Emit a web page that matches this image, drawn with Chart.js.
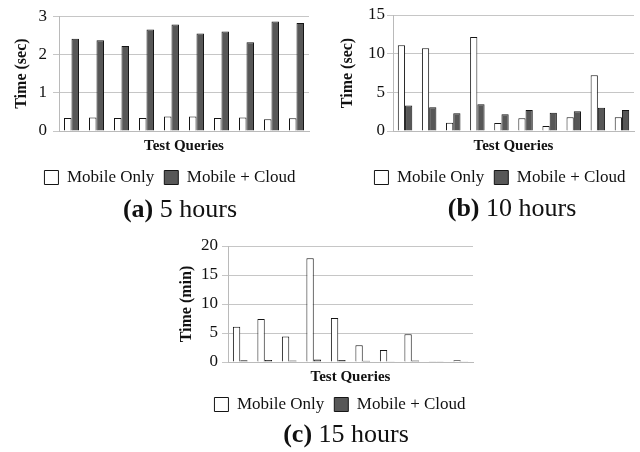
<!DOCTYPE html>
<html>
<head>
<meta charset="utf-8">
<script src="https://cdn.jsdelivr.net/npm/chart.js@4/dist/chart.umd.min.js"></script>
<style>
  html, body { margin:0; padding:0; width:640px; height:452px; overflow:hidden; background:#fff; }
  canvas { position:absolute; }
  .cap { position:absolute; font-family:"Liberation Serif", serif; font-size:26px; color:#111; white-space:nowrap; transform:translate(-50%,-50%); line-height:1; }
  .cap b { font-weight:bold; }
</style>
</head>
<body>
<canvas id="ca" width="340" height="196" style="left:0px;top:0px;"></canvas>
<canvas id="cb" width="360" height="196" style="left:320px;top:0px;"></canvas>
<canvas id="cc" width="360" height="193" style="left:160px;top:230px;"></canvas>
<div class="cap" style="left:180px;top:209px;"><b>(a)</b> 5 hours</div>
<div class="cap" style="left:512px;top:208px;"><b>(b)</b> 10 hours</div>
<div class="cap" style="left:346px;top:434px;"><b>(c)</b> 15 hours</div>
<script>
const categories = ['Q1','Q2','Q3','Q4','Q5','Q6','Q7','Q8','Q9','Q10'];
const seriesNames = ['Mobile Only', 'Mobile + Cloud'];

// (a) 5 hours, seconds
const mobileOnlyA  = [0.34, 0.35, 0.34, 0.34, 0.38, 0.38, 0.34, 0.35, 0.31, 0.33];
const mobileCloudA = [2.41, 2.37, 2.22, 2.65, 2.78, 2.55, 2.60, 2.32, 2.86, 2.82];
const ticksA = [0, 1, 2, 3];

// (b) 10 hours, seconds
const mobileOnlyB  = [11.1, 10.7, 1.08, 12.15, 1.03, 1.64, 0.65, 1.77, 7.2, 1.77];
const mobileCloudB = [3.3, 3.06, 2.28, 3.45, 2.16, 2.72, 2.37, 2.54, 3.02, 2.72];
const ticksB = [0, 5, 10, 15];

// (c) 15 hours, minutes
const mobileOnlyC  = [6.07, 7.4, 4.4, 17.9, 7.6, 2.87, 2.06, 4.8, 0.05, 0.3];
const mobileCloudC = [0.3, 0.35, 0.25, 0.45, 0.35, 0.2, 0.15, 0.25, 0.05, 0.15];
const ticksC = [0, 5, 10, 15, 20];

const FONT = '"Liberation Serif", "Times New Roman", serif';
const TXT = '#111';
const GRID = '#c6c6c6';
const AXIS = '#bababa';

function makeChart(id, only, cloud, ticks, yTitle, o) {
  const ctx = document.getElementById(id);
  return new Chart(ctx, {
    type: 'bar',
    data: {
      labels: categories,
      datasets: [
        { label: seriesNames[0], data: only, backgroundColor: '#ffffff', borderColor: '#151515', borderWidth: 1,
          categoryPercentage: 0.6, barPercentage: 1.0 },
        { label: seriesNames[1], data: cloud, backgroundColor: '#575757', borderColor: '#151515', borderWidth: 1,
          categoryPercentage: 0.6, barPercentage: 1.0 }
      ]
    },
    options: {
      responsive: false,
      animation: false,
      layout: { padding: { top: o.padTop, left: 0, right: 0, bottom: 0 } },
      plugins: {
        tooltip: { enabled: false },
        legend: {
          position: 'bottom',
          labels: {
            font: { family: FONT, size: 17 },
            color: TXT,
            boxWidth: 14, boxHeight: 14,
            padding: 10
          }
        }
      },
      scales: {
        x: {
          grid: { display: false },
          border: { display: true, color: AXIS },
          ticks: { display: false },
          title: { display: true, text: 'Test Queries', color: TXT,
                   font: { family: FONT, size: 15, weight: 'bold' },
                   padding: { top: 0, bottom: o.xTitlePadB } },
          afterFit: s => { s.height = o.xH; }
        },
        y: {
          position: 'left',
          min: ticks[0], max: ticks[ticks.length - 1],
          afterBuildTicks: s => { s.ticks = ticks.map(v => ({ value: v })); },
          grid: { color: GRID, tickColor: GRID, tickLength: 6, drawTicks: true },
          border: { display: true, color: AXIS },
          ticks: { color: TXT, font: { family: FONT, size: 17 }, padding: o.tickPad },
          title: { display: true, text: yTitle, color: TXT,
                   font: { family: FONT, size: 16, weight: 'bold' },
                   padding: { top: o.yTitlePadT, bottom: 0 } },
          afterFit: s => { s.width = o.yW; }
        },
        spacer: {
          type: 'linear', position: 'right', display: true,
          grid: { display: false }, border: { display: false }, ticks: { display: false },
          afterFit: s => { s.width = o.rightW; }
        }
      }
    }
  });
}

makeChart('ca', mobileOnlyA, mobileCloudA, ticksA, 'Time (sec)',
  { padTop: 15, xH: 28, xTitlePadB: 4, yW: 59, yTitlePadT: 12.4, tickPad: 6, rightW: 31 });
makeChart('cb', mobileOnlyB, mobileCloudB, ticksB, 'Time (sec)',
  { padTop: 15, xH: 28, xTitlePadB: 4, yW: 73, yTitlePadT: 18.4, tickPad: 2, rightW: 46 });
makeChart('cc', mobileOnlyC, mobileCloudC, ticksC, 'Time (min)',
  { padTop: 16, xH: 24, xTitlePadB: 0, yW: 68, yTitlePadT: 17.4, tickPad: 4, rightW: 47 });
</script>
</body>
</html>
